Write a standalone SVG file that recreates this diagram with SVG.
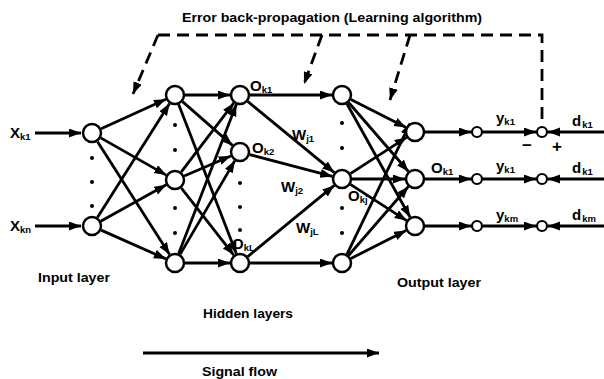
<svg xmlns="http://www.w3.org/2000/svg" width="604" height="379" viewBox="0 0 604 379">
  <style>
    .node { fill: #fff; stroke: #000; stroke-width: 2.5; }
    .term { fill: #fff; stroke: #000; stroke-width: 2.2; }
    .dot { fill: #000; }
    .edge { stroke: #000; stroke-width: 2.8; fill: none; marker-end: url(#head); }
    .dash { stroke: #000; stroke-width: 2.8; fill: none; stroke-dasharray: 12 7; }
    .dashed-edge { stroke: #000; stroke-width: 2.8; fill: none; stroke-dasharray: 12 7; marker-end: url(#head); }
    text { font-family: "Liberation Sans", Arial, sans-serif; font-weight: bold; fill: #000; }
    .lbl { font-size: 12px; }
    .big { font-size: 15px; }
    .sub { font-size: 9.5px; }
    .sign { font-size: 17px; }
  </style>
  <defs>
    <marker id="head" markerUnits="userSpaceOnUse" markerWidth="13" markerHeight="10" refX="12" refY="4.5" orient="auto">
      <path d="M0,0 L12,4.5 L0,9 Z" fill="#000"/>
    </marker>
  </defs>

  <rect width="604" height="379" fill="#fff"/>

  <!-- captions -->
  <text class="lbl" x="182" y="22" textLength="300" lengthAdjust="spacingAndGlyphs">Error back-propagation (Learning algorithm)</text>
  <text class="lbl" x="38" y="282" textLength="72" lengthAdjust="spacingAndGlyphs">Input layer</text>
  <text class="lbl" x="397" y="287" textLength="84" lengthAdjust="spacingAndGlyphs">Output layer</text>
  <text class="lbl" x="203" y="318" textLength="90" lengthAdjust="spacingAndGlyphs">Hidden layers</text>
  <text class="lbl" x="202" y="376" textLength="75" lengthAdjust="spacingAndGlyphs">Signal flow</text>

  <g id="connectors">
    <!-- inputs -->
    <line class="edge" x1="35" y1="133" x2="81" y2="133"/>
    <line class="edge" x1="35" y1="226" x2="81" y2="226"/>
    <!-- input layer to hidden layer 1 -->
    <line class="edge" x1="101.1" y1="128.8" x2="165.9" y2="99.2"/>
    <line class="edge" x1="100.7" y1="137.9" x2="166.3" y2="175.1"/>
    <line class="edge" x1="97.4" y1="141.4" x2="169.6" y2="254.6"/>
    <line class="edge" x1="97.4" y1="217.6" x2="169.6" y2="103.5"/>
    <line class="edge" x1="100.7" y1="221.2" x2="166.3" y2="184.8"/>
    <line class="edge" x1="101.1" y1="230.1" x2="165.9" y2="258.9"/>
    <!-- hidden layer 1 to hidden layer 2 -->
    <line class="edge" x1="185" y1="95" x2="230" y2="95"/>
    <line class="edge" x1="182.5" y1="101.6" x2="232.5" y2="145.4"/>
    <line class="edge" x1="178.6" y1="104.3" x2="236.4" y2="253.7"/>
    <line class="edge" x1="181.1" y1="172.1" x2="233.9" y2="102.9"/>
    <line class="edge" x1="184.2" y1="176" x2="230.8" y2="156"/>
    <line class="edge" x1="181.2" y1="187.9" x2="233.8" y2="255.1"/>
    <line class="edge" x1="178.6" y1="253.7" x2="236.4" y2="104.3"/>
    <line class="edge" x1="180.1" y1="254.4" x2="234.9" y2="160.6"/>
    <line class="edge" x1="185" y1="263" x2="230" y2="263"/>
    <!-- hidden layer 2 to hidden layer 3 -->
    <line class="edge" x1="250" y1="95" x2="332" y2="95"/>
    <line class="edge" x1="247.7" y1="101.4" x2="334.3" y2="172.6"/>
    <line class="edge" x1="249.7" y1="154.6" x2="332.3" y2="176.4"/>
    <line class="edge" x1="247.7" y1="256.6" x2="334.3" y2="185.4"/>
    <line class="edge" x1="250" y1="263" x2="332" y2="263"/>
    <!-- hidden layer 3 to output layer -->
    <line class="edge" x1="350.9" y1="99.5" x2="406.1" y2="127.5"/>
    <line class="edge" x1="348.6" y1="102.5" x2="408.4" y2="171.5"/>
    <line class="edge" x1="346.9" y1="103.7" x2="410.1" y2="217.3"/>
    <line class="edge" x1="350.4" y1="173.6" x2="406.6" y2="137.4"/>
    <line class="edge" x1="352" y1="179" x2="405" y2="179"/>
    <line class="edge" x1="350.4" y1="184.4" x2="406.6" y2="220.6"/>
    <line class="edge" x1="346.9" y1="254.3" x2="410.1" y2="123.3"/>
    <line class="edge" x1="348.6" y1="255.5" x2="408.4" y2="186.5"/>
    <line class="edge" x1="350.9" y1="258.5" x2="406.1" y2="230.5"/>
    <!-- outputs, targets -->
    <line class="edge" x1="425" y1="132" x2="471" y2="132"/>
    <line class="edge" x1="425" y1="179" x2="471" y2="179"/>
    <line class="edge" x1="425" y1="226" x2="471" y2="226"/>
    <line class="edge" x1="483" y1="132" x2="536" y2="132"/>
    <line class="edge" x1="483" y1="179" x2="536" y2="179"/>
    <line class="edge" x1="483" y1="226" x2="536" y2="226"/>
    <line class="edge" x1="604" y1="132" x2="548" y2="132"/>
    <line class="edge" x1="604" y1="179" x2="548" y2="179"/>
    <line class="edge" x1="604" y1="226" x2="548" y2="226"/>
    <!-- error feedback -->
    <polyline class="dash" points="158,35 542,35 542,126"/>
    <line class="dashed-edge" x1="158" y1="35" x2="133" y2="94"/>
    <line class="dashed-edge" x1="322" y1="35" x2="304" y2="84"/>
    <line class="dashed-edge" x1="410" y1="35" x2="390" y2="100"/>
    <!-- signal flow -->
    <line class="edge" x1="143" y1="353" x2="379" y2="353"/>
  </g>

  <!-- input layer -->
  <g id="input-layer">
    <circle class="node" cx="92" cy="133" r="9"/>
    <circle class="node" cx="92" cy="226" r="9"/>
    <circle class="dot" cx="92" cy="158" r="2"/>
    <circle class="dot" cx="92" cy="182" r="2"/>
    <circle class="dot" cx="92" cy="206" r="2"/>
  </g>
  <g id="hidden-1">
    <circle class="node" cx="175" cy="95" r="9"/>
    <circle class="node" cx="175" cy="180" r="9"/>
    <circle class="node" cx="175" cy="263" r="9"/>
    <circle class="dot" cx="175" cy="125" r="2"/>
    <circle class="dot" cx="175" cy="150" r="2"/>
    <circle class="dot" cx="175" cy="208" r="2"/>
    <circle class="dot" cx="175" cy="233" r="2"/>
  </g>
  <g id="hidden-2">
    <circle class="node" cx="240" cy="95" r="9"/>
    <circle class="node" cx="240" cy="152" r="9"/>
    <circle class="node" cx="240" cy="263" r="9"/>
    <circle class="dot" cx="240" cy="183" r="2"/>
    <circle class="dot" cx="240" cy="207" r="2"/>
    <circle class="dot" cx="240" cy="230" r="2"/>
  </g>
  <g id="hidden-3">
    <circle class="node" cx="342" cy="95" r="9"/>
    <circle class="node" cx="342" cy="179" r="9"/>
    <circle class="node" cx="342" cy="263" r="9"/>
    <circle class="dot" cx="342" cy="123" r="2"/>
    <circle class="dot" cx="342" cy="148" r="2"/>
    <circle class="dot" cx="342" cy="208" r="2"/>
    <circle class="dot" cx="342" cy="233" r="2"/>
  </g>
  <g id="output-layer">
    <circle class="node" cx="415" cy="132" r="9"/>
    <circle class="node" cx="415" cy="179" r="9"/>
    <circle class="node" cx="415" cy="226" r="9"/>
  </g>
  <g id="terminals">
    <circle class="term" cx="477" cy="132" r="5"/>
    <circle class="term" cx="477" cy="179" r="5"/>
    <circle class="term" cx="477" cy="226" r="5"/>
    <circle class="term" cx="542" cy="132" r="5"/>
    <circle class="term" cx="542" cy="179" r="5"/>
    <circle class="term" cx="542" cy="226" r="5"/>
  </g>

  <!-- symbols -->
  <g id="labels">
    <text class="big" x="10" y="138">X<tspan class="sub" dy="1.5">k1</tspan></text>
    <text class="big" x="10" y="231">X<tspan class="sub" dy="1.5">kn</tspan></text>
    <text class="big" x="250" y="91">O<tspan class="sub" dy="1.5">k1</tspan></text>
    <text class="big" x="252" y="153">O<tspan class="sub" dy="1.5">k2</tspan></text>
    <text class="big" x="232" y="249">O<tspan class="sub" dy="1.5">kL</tspan></text>
    <text class="big" x="292" y="140">W<tspan class="sub" dy="1.5">j1</tspan></text>
    <text class="big" x="281" y="192">W<tspan class="sub" dy="1.5">j2</tspan></text>
    <text class="big" x="296" y="233">W<tspan class="sub" dy="1.5">jL</tspan></text>
    <text class="big" x="348" y="201">O<tspan class="sub" dy="1.5">kj</tspan></text>
    <text class="big" x="431" y="173">O<tspan class="sub" dy="1.5">k1</tspan></text>
    <text class="big" x="496" y="123">y<tspan class="sub" dy="1.5">k1</tspan></text>
    <text class="big" x="496" y="171">y<tspan class="sub" dy="1.5">k1</tspan></text>
    <text class="big" x="496" y="220">y<tspan class="sub" dy="1.5">km</tspan></text>
    <text class="big" x="572" y="126">d<tspan class="sub" dy="1.5" dx="1">k1</tspan></text>
    <text class="big" x="572" y="173">d<tspan class="sub" dy="1.5" dx="1">k1</tspan></text>
    <text class="big" x="572" y="220">d<tspan class="sub" dy="1.5" dx="1">km</tspan></text>
    <text class="sign" x="522" y="151">−</text>
    <text class="sign" x="552" y="152">+</text>
  </g>
</svg>
